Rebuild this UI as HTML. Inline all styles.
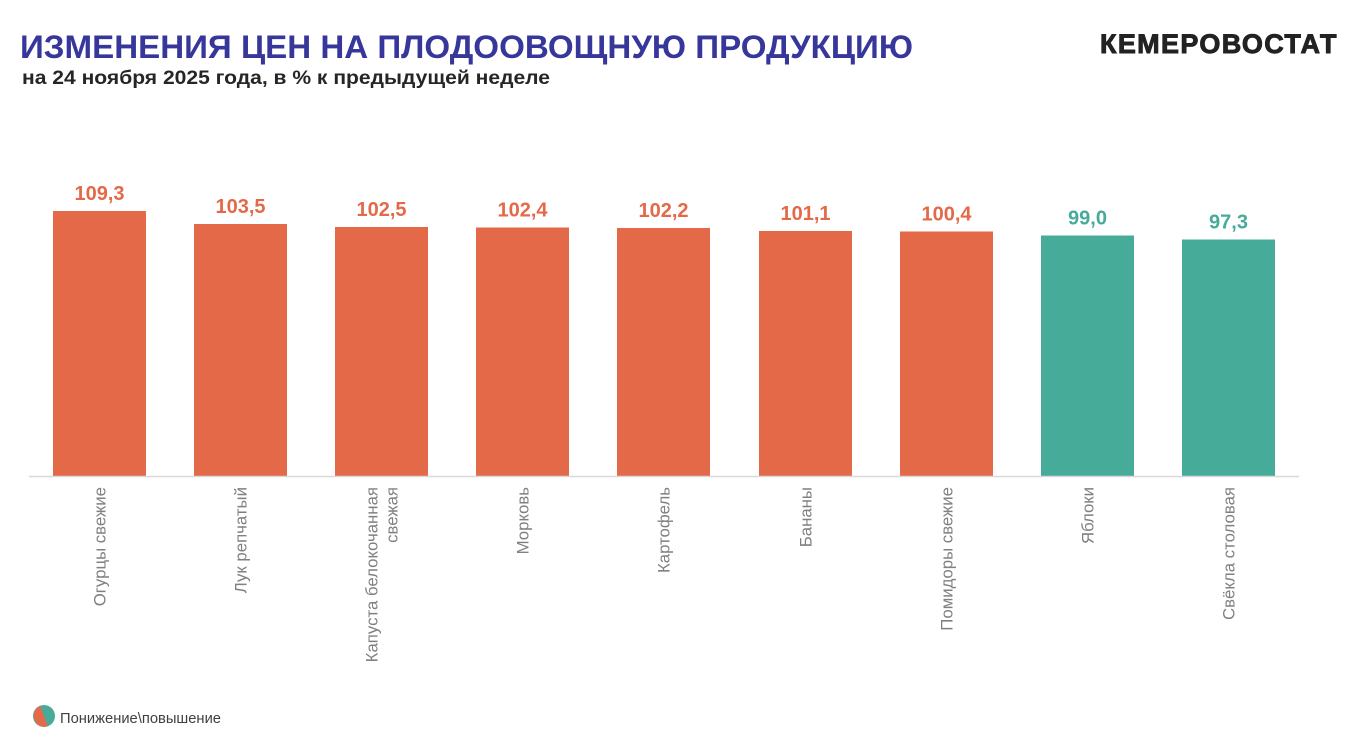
<!DOCTYPE html>
<html>
<head>
<meta charset="utf-8">
<style>
  html, body { margin: 0; padding: 0; background: #ffffff; }
  body { width: 1356px; height: 738px; overflow: hidden; }
  svg { display: block; }
  text { font-family: "Liberation Sans", "Noto Sans CJK SC", sans-serif; }
</style>
</head>
<body>
<svg width="1356" height="738" viewBox="0 0 1356 738" xmlns="http://www.w3.org/2000/svg">
  <rect x="0" y="0" width="1356" height="738" fill="#ffffff"/>

  <!-- Title -->
  <text x="20" y="58" font-size="32" font-weight="bold" fill="#36369b" textLength="893" lengthAdjust="spacingAndGlyphs">ИЗМЕНЕНИЯ ЦЕН НА ПЛОДООВОЩНУЮ ПРОДУКЦИЮ</text>
  <text x="22" y="84" font-size="19.5" font-weight="bold" fill="#262626" textLength="528" lengthAdjust="spacingAndGlyphs">на 24 ноября 2025 года, в % к предыдущей неделе</text>

  <!-- Logo -->
  <text x="1100" y="53" font-size="27" font-weight="bold" fill="#222222" stroke="#222222" stroke-width="0.9" letter-spacing="1.5" textLength="238" lengthAdjust="spacing">КЕМЕРОВОСТАТ</text>

  <!-- Bars -->
  <g>
    <rect x="53"   y="211" width="93" height="265" fill="#e36948"/>
    <rect x="194"  y="224" width="93" height="252" fill="#e36948"/>
    <rect x="335"  y="227" width="93" height="249" fill="#e36948"/>
    <rect x="476"  y="227.5" width="93" height="248.5" fill="#e36948"/>
    <rect x="617"  y="228" width="93" height="248" fill="#e36948"/>
    <rect x="759"  y="231" width="93" height="245" fill="#e36948"/>
    <rect x="900"  y="231.5" width="93" height="244.5" fill="#e36948"/>
    <rect x="1041" y="235.5" width="93" height="240.5" fill="#46ab99"/>
    <rect x="1182" y="239.5" width="93" height="236.5" fill="#46ab99"/>
  </g>

  <!-- Axis -->
  <line x1="29" y1="476.5" x2="1299" y2="476.5" stroke="#d9d9d9" stroke-width="1.5"/>

  <!-- Value labels -->
  <g font-size="20" font-weight="bold" text-anchor="middle">
    <text x="99.5"   y="200" fill="#e36948">109,3</text>
    <text x="240.5"  y="213" fill="#e36948">103,5</text>
    <text x="381.5"  y="216" fill="#e36948">102,5</text>
    <text x="522.5"  y="216.5" fill="#e36948">102,4</text>
    <text x="663.5"  y="217" fill="#e36948">102,2</text>
    <text x="805.5"  y="220" fill="#e36948">101,1</text>
    <text x="946.5"  y="220.5" fill="#e36948">100,4</text>
    <text x="1087.5" y="224.5" fill="#46ab99">99,0</text>
    <text x="1228.5" y="228.5" fill="#46ab99">97,3</text>
  </g>

  <!-- Category labels (rotated) -->
  <g font-size="16.8" fill="#808080" text-anchor="end">
    <text transform="translate(99.5,487) rotate(-90)" dy="0.35em">Огурцы свежие</text>
    <text transform="translate(240.5,487) rotate(-90)" dy="0.35em">Лук репчатый</text>
    <text transform="translate(371.5,487) rotate(-90)" dy="0.35em">Капуста белокочанная</text>
    <text transform="translate(391.5,487) rotate(-90)" dy="0.35em">свежая</text>
    <text transform="translate(522.5,487) rotate(-90)" dy="0.35em">Морковь</text>
    <text transform="translate(663.5,487) rotate(-90)" dy="0.35em">Картофель</text>
    <text transform="translate(805.5,487) rotate(-90)" dy="0.35em">Бананы</text>
    <text transform="translate(946.5,487) rotate(-90)" dy="0.35em">Помидоры свежие</text>
    <text transform="translate(1087.5,487) rotate(-90)" dy="0.35em">Яблоки</text>
    <text transform="translate(1228.5,487) rotate(-90)" dy="0.35em">Свёкла столовая</text>
  </g>

  <!-- Legend -->
  <circle cx="44" cy="716" r="11" fill="#46ab99"/>
  <path d="M 40.2 705.7 A 11 11 0 0 0 47.8 726.3 Z" fill="#e36948"/>
  <text x="60" y="723" font-size="15" fill="#404040" textLength="161" lengthAdjust="spacingAndGlyphs">Понижение\повышение</text>
</svg>
</body>
</html>
